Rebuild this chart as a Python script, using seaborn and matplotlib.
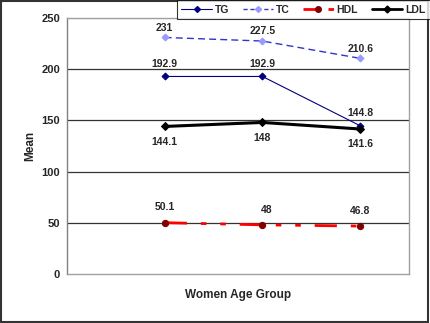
import matplotlib
matplotlib.use("Agg")
import matplotlib.pyplot as plt
import seaborn as sns
import pandas as pd
from matplotlib.lines import Line2D
from matplotlib.patches import Rectangle

sns.set_style("white")
plt.rcParams['font.family'] = ['Liberation Sans', 'DejaVu Sans']

groups = [1, 2, 3]
tg = [192.9, 192.9, 144.8]
tc = [231, 227.5, 210.6]
hdl = [50.1, 48, 46.8]
ldl = [144.1, 148, 141.6]
series_names = ["TG", "TC", "HDL", "LDL"]
y_ticks = [0, 50, 100, 150, 200, 250]

fig = plt.figure(figsize=(4.3, 3.23), dpi=100)
ax = fig.add_axes([67/430, 49/323, 342/430, 256/323])

df = pd.DataFrame({"g": groups, "TG": tg, "TC": tc, "HDL": hdl, "LDL": ldl})

sns.lineplot(data=df, x="g", y="TC", ax=ax, color="#3333cc", lw=1.0,
             linestyle=(0, (5, 3)), marker="D", markersize=3.5,
             markerfacecolor="#9999ff", markeredgecolor="#9999ff", zorder=3)
sns.lineplot(data=df, x="g", y="TG", ax=ax, color="#000080", lw=0.8,
             marker="D", markersize=3.5, markerfacecolor="#000080",
             markeredgecolor="#000080", zorder=4)
sns.lineplot(data=df, x="g", y="LDL", ax=ax, color="black", lw=2.2,
             marker="D", markersize=4, markerfacecolor="black",
             markeredgecolor="black", zorder=5)
sns.lineplot(data=df, x="g", y="HDL", ax=ax, color="#ff0000", lw=2.0,
             linestyle=(0, (8, 5, 2, 5, 2, 5)), marker="o", markersize=4.5,
             markerfacecolor="#800000", markeredgecolor="#800000", zorder=4)

ax.set_xlim(0, 3.5)
ax.set_ylim(0, 250)
ax.set_yticks(y_ticks)
ax.set_xticks([])
for t in ax.get_yticklabels():
    t.set_fontweight("bold")
    t.set_fontsize(8)
ax.tick_params(axis="y", length=3, width=0.8, color="#808080", pad=2)
for v in [50, 100, 150, 200]:
    ax.axhline(v, color="#333333", lw=0.9, zorder=1)
ax.axhline(250, color="#a0a0a0", lw=1.5, zorder=1)
for s in ["top", "right", "bottom"]:
    ax.spines[s].set_color("#a0a0a0")
    ax.spines[s].set_linewidth(1.0)
ax.spines["left"].set_color("#808080")
ax.spines["left"].set_linewidth(1.0)

ax.set_ylabel("Mean", fontsize=8.5, fontweight="bold", labelpad=4)
ax.set_xlabel("Women Age Group", fontsize=8.5, fontweight="bold", labelpad=11)

def lab(x, y, txt, dy, dx=0):
    ax.annotate(txt, (x, y), xytext=(dx, dy), textcoords="offset points",
                ha="center", va="center", fontsize=7.5, fontweight="bold", zorder=6)

for x, y in zip(groups, tg):
    lab(x, y, f"{y:g}", 9)
for x, y in zip(groups, tc):
    lab(x, y, f"{y:g}", 7)
for x, y in zip(groups, ldl):
    lab(x, y, f"{y:g}", -11)
for i, (x, y) in enumerate(zip(groups, hdl)):
    lab(x, y, f"{y:g}", 11, 3 if i == 1 else 0)

handles = [
    Line2D([], [], color="#000080", lw=0.8, marker="D", markersize=3,
           markerfacecolor="#000080"),
    Line2D([], [], color="#3333cc", lw=1.0, linestyle=(0, (3, 2)), marker="D",
           markersize=3, markerfacecolor="#9999ff", markeredgecolor="#9999ff"),
    Line2D([], [], color="#ff0000", lw=2.0, linestyle=(0, (6, 3, 2, 3)), marker="o",
           markersize=4, markerfacecolor="#800000", markeredgecolor="#800000"),
    Line2D([], [], color="black", lw=2.0, marker="D", markersize=3.5,
           markerfacecolor="black"),
]
leg = fig.legend(handles, series_names, loc="upper right",
                 bbox_to_anchor=(1.0, 1.0), ncol=4, frameon=True, fancybox=False,
                 prop={"size": 7.5, "weight": "bold"}, handlelength=2.9,
                 columnspacing=1.3, handletextpad=0.3, borderpad=0.45,
                 borderaxespad=0.0)
leg.get_frame().set_edgecolor("black")
leg.get_frame().set_linewidth(0.8)

fig.patches.append(Rectangle((0.002, 0.004), 0.994, 0.993, transform=fig.transFigure,
                             fill=False, edgecolor="#333333", lw=1.5))

fig.savefig("out.png", dpi=100)
